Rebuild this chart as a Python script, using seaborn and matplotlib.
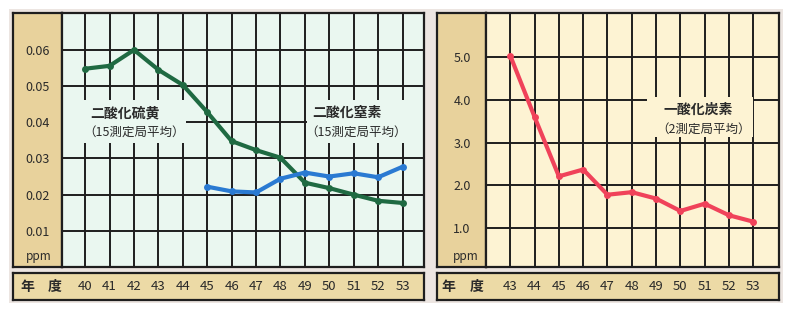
import matplotlib
matplotlib.use("Agg")
import matplotlib.pyplot as plt
import seaborn as sns
import pandas as pd
from matplotlib.patches import Rectangle

# ---- data ----
years_so2 = [40, 41, 42, 43, 44, 45, 46, 47, 48, 49, 50, 51, 52, 53]
so2 = [0.0548, 0.0556, 0.0600, 0.0545, 0.0503, 0.0428, 0.0348, 0.0323, 0.0302,
       0.0233, 0.0218, 0.0200, 0.0183, 0.0177]
years_no2 = [45, 46, 47, 48, 49, 50, 51, 52, 53]
no2 = [0.0222, 0.0209, 0.0206, 0.0244, 0.0261, 0.0250, 0.0259, 0.0248, 0.0277]
years_co = [43, 44, 45, 46, 47, 48, 49, 50, 51, 52, 53]
co = [5.03, 3.60, 2.21, 2.37, 1.78, 1.84, 1.69, 1.40, 1.57, 1.30, 1.15]

left_yticks = [0.01, 0.02, 0.03, 0.04, 0.05, 0.06]
left_yticklabels = ["0.01", "0.02", "0.03", "0.04", "0.05", "0.06"]
right_yticks = [1.0, 2.0, 3.0, 4.0, 5.0]
right_yticklabels = ["1.0", "2.0", "3.0", "4.0", "5.0"]

so2_name, so2_note = "二酸化硫黄", "（15測定局平均）"
no2_name, no2_note = "二酸化窒素", "（15測定局平均）"
co_name, co_note = "一酸化炭素", "（2測定局平均）"
unit = "ppm"
year_label = ("年", "度")

df_so2 = pd.DataFrame({"year": years_so2, "value": so2})
df_no2 = pd.DataFrame({"year": years_no2, "value": no2})
df_co = pd.DataFrame({"year": years_co, "value": co})

sns.set_theme(style="white")
plt.rcParams["font.family"] = ["Noto Sans CJK JP", "DejaVu Sans"]

W, H = 792, 312
fig = plt.figure(figsize=(W / 100, H / 100), dpi=100)
fig.patch.set_facecolor("white")

def px_axes(x0, y0, x1, y1, **kw):
    return fig.add_axes([x0 / W, 1 - y1 / H, (x1 - x0) / W, (y1 - y0) / H], **kw)

# paper background
bg = px_axes(0, 0, W, H)
bg.set_xlim(0, W); bg.set_ylim(H, 0); bg.axis("off")
bg.add_patch(Rectangle((9, 9), 774, 294, facecolor="#ece5e1", edgecolor="none"))

TAN = "#e8d29c"
STRIP = "#ecdaa6"
GRID = "#1e1e1e"
TXT = "#2a2a2a"

def tan_col(x0, x1):
    a = px_axes(x0, 13, x1, 267)
    a.set_facecolor(TAN)
    a.set_xticks([]); a.set_yticks([])
    for s in a.spines.values():
        s.set_color(GRID); s.set_linewidth(1.6)
    return a

def strip(x0, x1):
    a = px_axes(x0, 273, x1, 300)
    a.set_facecolor(STRIP)
    a.set_xticks([]); a.set_yticks([])
    for s in a.spines.values():
        s.set_color(GRID); s.set_linewidth(1.6)
    return a

def style_plot(a, face):
    a.set_facecolor(face)
    a.set_axisbelow(True)
    a.grid(True, color=GRID, linewidth=1.4)
    for s in a.spines.values():
        s.set_color(GRID); s.set_linewidth(1.6)
    a.tick_params(axis="both", length=0, colors=TXT)
    a.tick_params(axis="y", labelsize=9)
    a.tick_params(axis="x", labelsize=9.5, pad=9)
    a.set_xlabel(""); a.set_ylabel("")

# ---------------- left panel ----------------
tl = tan_col(13, 62)
tl.text(0.52, 0.04, unit, transform=tl.transAxes, ha="center", va="center", fontsize=8.5, color=TXT)
sl = strip(13, 424)
sl.text(0.035, 0.5, year_label[0], transform=sl.transAxes, ha="center", va="center",
        fontsize=10, fontweight="bold", color=TXT)
sl.text(0.102, 0.5, year_label[1], transform=sl.transAxes, ha="center", va="center",
        fontsize=10, fontweight="bold", color=TXT)

axL = px_axes(62, 13, 424, 267)
sns.lineplot(data=df_so2, x="year", y="value", ax=axL, color="#1f6a42", linewidth=3.0,
             marker="o", markersize=5, markeredgewidth=0, zorder=3)
sns.lineplot(data=df_no2, x="year", y="value", ax=axL, color="#2a7ad2", linewidth=3.0,
             marker="o", markersize=5, markeredgewidth=0, zorder=3)
axL.set_xlim(39.05, 53.88)
axL.set_ylim(0, 0.0702)
axL.set_xticks(years_so2)
axL.set_xticklabels([str(y) for y in years_so2])
axL.set_yticks(left_yticks)
axL.set_yticklabels(left_yticklabels)
style_plot(axL, "#eaf7f0")
axL.tick_params(axis="y", pad=9)

# label backgrounds (hide grid behind labels)
axL.add_patch(Rectangle((0.003, 0.487), 0.34, 0.17, transform=axL.transAxes,
                        facecolor="#eaf7f0", edgecolor="none", zorder=1))
axL.add_patch(Rectangle((0.676, 0.487), 0.322, 0.17, transform=axL.transAxes,
                        facecolor="#eaf7f0", edgecolor="none", zorder=1))
axL.text(0.077, 0.605, so2_name, transform=axL.transAxes, fontsize=10, fontweight="bold",
         color=TXT, va="center", ha="left", zorder=4)
axL.text(0.058, 0.53, so2_note, transform=axL.transAxes, fontsize=9, color=TXT,
         va="center", ha="left", zorder=4)
axL.text(0.69, 0.605, no2_name, transform=axL.transAxes, fontsize=10, fontweight="bold",
         color=TXT, va="center", ha="left", zorder=4)
axL.text(0.672, 0.53, no2_note, transform=axL.transAxes, fontsize=9, color=TXT,
         va="center", ha="left", zorder=4)

# ---------------- right panel ----------------
tr = tan_col(437, 486)
tr.text(0.58, 0.04, unit, transform=tr.transAxes, ha="center", va="center", fontsize=8.5, color=TXT)
sr = strip(437, 779)
sr.text(0.032, 0.5, year_label[0], transform=sr.transAxes, ha="center", va="center",
        fontsize=10, fontweight="bold", color=TXT)
sr.text(0.117, 0.5, year_label[1], transform=sr.transAxes, ha="center", va="center",
        fontsize=10, fontweight="bold", color=TXT)

axR = px_axes(486, 13, 779, 267)
sns.lineplot(data=df_co, x="year", y="value", ax=axR, color="#f0425a", linewidth=3.0,
             marker="o", markersize=5, markeredgewidth=0, zorder=3)
axR.set_xlim(42.0, 54.06)
axR.set_ylim(0.09, 6.03)
axR.set_xticks(years_co)
axR.set_xticklabels([str(y) for y in years_co])
axR.set_yticks(right_yticks)
axR.set_yticklabels(right_yticklabels)
style_plot(axR, "#fdf3d3")
axR.tick_params(axis="y", pad=11)

axR.add_patch(Rectangle((0.55, 0.51), 0.36, 0.16, transform=axR.transAxes,
                        facecolor="#fdf3d3", edgecolor="none", zorder=1))
axR.text(0.606, 0.618, co_name, transform=axR.transAxes, fontsize=10, fontweight="bold",
         color=TXT, va="center", ha="left", zorder=4)
axR.text(0.58, 0.543, co_note, transform=axR.transAxes, fontsize=9, color=TXT,
         va="center", ha="left", zorder=4)

fig.savefig("out.png", dpi=100, facecolor=fig.get_facecolor())
